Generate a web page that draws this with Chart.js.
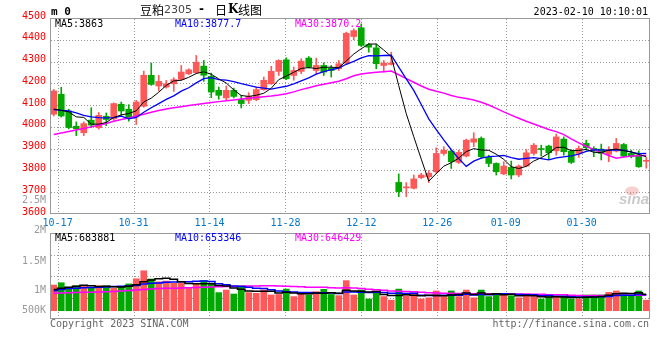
<!DOCTYPE html>
<html>
<head>
<meta charset="utf-8">
<script src="https://cdn.jsdelivr.net/npm/chart.js@4.4.1/dist/chart.umd.min.js"></script>
<style>
  html, body { margin: 0; padding: 0; background: #fff; }
  #wrap { position: relative; width: 660px; height: 360px; }
  #wrap canvas { position: absolute; left: 0; top: 0; }
</style>
</head>
<body>
<div id="wrap">
  <canvas id="price" width="660" height="360"></canvas>
  <canvas id="vol" width="660" height="360"></canvas>
</div>
<script>
/* ── data ─────────────────────────────────────────────── */
const DATES = [
  '10-14','10-17','10-18','10-19','10-20','10-21','10-24','10-25','10-26','10-27','10-28','10-31',
  '11-01','11-02','11-03','11-04','11-07','11-08','11-09','11-10','11-11','11-14','11-15','11-16',
  '11-17','11-18','11-21','11-22','11-23','11-24','11-25','11-28','11-29','11-30',
  '12-01','12-02','12-05','12-06','12-07','12-08','12-09','12-12','12-13','12-14','12-15','12-16',
  '12-19','12-20','12-21','12-22','12-23','12-26','12-27','12-28','12-29','12-30',
  '01-03','01-04','01-05','01-06','01-09','01-10','01-11','01-12','01-13',
  '01-16','01-17','01-18','01-19','01-20','01-30','01-31',
  '02-01','02-02','02-03','02-06','02-07','02-08','02-09','02-10'
];
const DATE_TICKS = [1, 11, 21, 31, 41, 51, 60, 70];

const OPEN  = [4058,4150,4073,4003,3973,4031,3996,4049,4037,4104,4081,4046,4095,4237,4188,4183,4198,4218,4244,4249,
               4279,4232,4168,4133,4168,4125,4122,4125,4171,4198,4255,4308,4236,4255,4316,4259,4282,4270,4267,4293,
               4415,4455,4378,4363,4282,4287,3745,3720,3718,3767,3771,3794,3878,3889,3837,3866,3930,3947,3860,3832,
               3784,3814,3779,3820,3878,3898,3912,3890,3944,3889,3878,3924,3901,3898,3874,3889,3919,3878,3871,3842];
const HIGH  = [4172,4182,4081,4023,4023,4088,4066,4064,4110,4114,4102,4122,4256,4293,4237,4213,4226,4282,4267,4328,
               4305,4247,4183,4188,4178,4145,4157,4183,4229,4278,4308,4317,4275,4313,4323,4316,4294,4282,4305,4435,
               4450,4473,4384,4381,4305,4343,3784,3744,3779,3787,3799,3904,3909,3893,3893,3944,3973,3954,3870,3835,
               3840,3843,3825,3896,3924,3916,3916,3967,3954,3896,3912,3939,3909,3921,3909,3947,3924,3893,3890,3860];
const LOW   = [4050,4045,3991,3960,3960,3997,3990,4006,4030,4053,4026,4011,4090,4191,4165,4178,4163,4214,4240,4244,
               4209,4134,4127,4122,4133,4087,4107,4120,4168,4195,4236,4217,4214,4244,4270,4244,4236,4229,4259,4288,
               4400,4369,4343,4267,4252,4284,3680,3680,3715,3762,3744,3787,3870,3809,3832,3862,3909,3855,3817,3779,
               3780,3761,3771,3817,3870,3866,3851,3870,3870,3832,3860,3893,3863,3848,3840,3885,3862,3858,3814,3810];
const CLOSE = [4165,4050,3997,3991,4015,4008,4053,4034,4107,4073,4041,4114,4237,4195,4209,4198,4217,4252,4262,4297,
               4237,4160,4145,4168,4140,4107,4140,4171,4214,4255,4305,4221,4259,4302,4275,4282,4252,4259,4290,4430,
               4442,4374,4366,4290,4293,4293,3703,3724,3761,3779,3787,3878,3893,3840,3883,3939,3945,3863,3832,3794,
               3820,3779,3820,3881,3916,3896,3881,3954,3886,3837,3901,3904,3889,3878,3896,3924,3866,3863,3817,3845];

const MA5  = [4082,4076,4069,4046,4043.6,4012.2,4012.8,4020.2,4043.4,4055,4061.6,4073.8,4114.4,4132,4159.2,4190.6,
              4211.2,4214.2,4227.6,4245.2,4253,4241.6,4220.2,4201.4,4170,4144,4140,4145.2,4154.4,4177.4,4217,4233.2,
              4250.8,4268.4,4272.4,4267.8,4274,4274,4271.6,4302.6,4334.6,4359,4380.4,4380.4,4353,4323.2,4189,4060.6,
              3954.8,3852,3750.8,3785.8,3819.6,3835.4,3856.2,3886.6,3900,3894,3892.4,3874.6,3850.8,3817.6,3809,3818.8,
              3843.2,3858.4,3878.8,3905.6,3906.6,3890.8,3891.8,3896.4,3883.4,3881.8,3893.6,3898.2,3890.6,3885.4,3873.2,3863];
const MA10 = [4079,4076,4073,4064,4053,4046,4043,4041,4043,4049.3,4036.9,4043.3,4067.3,4087.7,4107.1,4126.1,
              4142.5,4164.3,4179.8,4202.2,4221.8,4226.4,4217.2,4214.5,4207.6,4198.5,4190.8,4182.7,4177.9,4173.7,4180.5,4186.6,
              4198,4211.4,4224.9,4242.4,4253.6,4262.4,4270,4287.5,4301.2,4316.5,4327.2,4326,4327.8,4328.9,4274,4220.5,
              4167.6,4102.5,4037,3987.4,3940.1,3895.1,3854.1,3818.7,3842.9,3856.8,3863.9,3865.4,3868.7,3858.8,3851.5,3855.6,
              3858.9,3854.6,3848.2,3857.3,3862.7,3867,3875.1,3887.6,3894.5,3894.2,3892.2,3895,3893.5,3884.4,3877.5,3878.3];
const MA30 = [3965,3972,3979,3986,3993,4000,4008,4016,4026,4034,4041,4050,4058,4067,4075,4082,
              4088,4093,4098,4103,4107,4112,4116,4120,4124,4128,4132,4135,4138,4141.7,4146.4,4152.1,
              4160.8,4171.2,4179.9,4189,4195.6,4203.1,4209.2,4221.1,4234.5,4243.2,4247.5,4250.6,4253.4,4256.6,4239.5,4221.9,
              4205.2,4187.9,4172.9,4163.5,4155.1,4144.2,4135.6,4130,4123.5,4113.2,4100.5,4085.1,4069,4054.2,4039.6,4025.6,
              4013.6,4000.7,3988.4,3978.2,3964.7,3945,3926.9,3911.3,3895.4,3881.6,3868.4,3856.1,3861.5,3866.2,3868,3870.2];

// volume, in units of 10,000
const VOLUME = [109,119,100,106,106,98,106,106,95,100,114,136,170,135,123,126,117,117,95,117,
                128,117,77,88,71,106,77,74,88,67,69,92,60,74,67,81,91,69,64,128,
                67,88,50,78,60,45,92,63,69,50,55,84,60,84,60,88,55,88,60,69,
                69,64,55,69,60,50,60,60,60,50,50,67,67,67,78,84,74,64,84,45];
const VMA5  = [90,96,100,104,108,105.8,103.2,104.4,102.2,101,104.2,110.2,123,131,135.6,138,
               134.2,123.6,115.6,114.4,114.8,114.8,106.8,105.4,96.2,91.8,83.8,83.2,83.2,82.4,75,78,
               75.2,72.4,72.4,74.8,74.6,76.4,74.4,86.6,83.8,83.2,79.4,82.2,68.6,64.2,65,67.6,
               65.8,63.8,65.8,64.2,63.6,66.6,68.6,75.2,69.4,75,70.2,72,68.2,70,63.4,65.2,
               63.4,59.6,58.8,59.8,58,56,56,57.4,58.8,60.2,65.8,72.6,74,73.4,76.8,70.2];
const VMA10 = [85,90,94,96,98,99,100,101,103,104.5,105,106.7,113.7,116.6,118.3,121.1,
               122.2,123.3,123.3,125,126.4,124.5,115.2,110.5,105.3,103.3,99.3,95,94.3,89.3,83.4,80.9,
               79.2,77.8,77.4,74.9,76.3,75.8,73.4,79.5,79.3,78.9,77.9,78.3,77.6,74,74.1,73.5,
               74,66.2,65,64.6,65.6,66.2,66.2,70.5,66.8,69.3,68.4,70.3,71.7,69.7,69.2,67.7,
               67.7,63.9,64.4,61.6,61.6,59.7,57.8,58.1,59.3,59.1,60.9,64.3,65.7,66.1,68.5,68];
const VMA30 = [74,75,76,77,78,79,80,81,82,84,86,88,90,92,94,95,
               96,97,98,99,100,101,102,103,103,104,105,105,106,106.3,104.9,104,
               102.7,101.6,100.3,99.8,99.3,98,97,97.9,96.4,94.8,90.8,88.9,86.8,84.1,83.2,81.4,
               80.6,78.3,75.9,74.8,74.2,74.1,73.7,73.1,72.4,72.9,71.9,72,72,71.1,70.9,70.7,
               70.5,69.5,68.4,68.1,68,65.4,64.8,64.1,64.7,64.3,64.9,66.2,65.6,65.7,66.2,66];

const VOL_LABELS = [['2.5M', 200.7], ['2M', 230.7], ['1.5M', 261], ['1M', 290.7], ['500K', 310]];

/* ── style ────────────────────────────────────────────── */
const UP = '#ff5858', DOWN = '#00a800';
const GRID = '#999', FRAME = '#999';
const MONO = '"DejaVu Sans Mono", monospace';

Chart.defaults.font.family = MONO;
Chart.defaults.font.size = 10;

const candleColors = CLOSE.map((c, i) => c >= OPEN[i] ? UP : DOWN);

// dotted grid placed with the chart's own scales, plus the solid frame
const dotGrid = {
  id: 'dotGrid',
  beforeDatasetsDraw(chart){
    const a = chart.chartArea, ctx = chart.ctx;
    const xd = chart.scales.xd, y = chart.scales.y;
    const top = Math.round(a.top), bot = Math.round(a.bottom);
    const lft = Math.round(a.left), rgt = Math.round(a.right);
    ctx.save();
    ctx.fillStyle = GRID;
    xd.ticks.forEach(t => {
      const px = Math.round(xd.getPixelForValue(t.value));
      for (let py = top + 1; py < bot - 1; py += 3) ctx.fillRect(px, py, 1, 1);
    });
    y.ticks.forEach(t => {
      const py = Math.round(y.getPixelForValue(t.value));
      if (py <= top + 1 || py >= bot - 1) return;
      for (let px = lft + 1; px < rgt - 1; px += 3) ctx.fillRect(px, py, 1, 1);
    });
    ctx.restore();
  },
  afterDraw(chart){
    const a = chart.chartArea, ctx = chart.ctx;
    ctx.save();
    ctx.strokeStyle = FRAME;
    ctx.lineWidth = 1;
    ctx.strokeRect(a.left + 0.5, a.top + 0.5, a.right - a.left - 1, a.bottom - a.top - 1);
    ctx.restore();
  }
};

function txt(ctx, s, x, y, color, font, align){
  ctx.fillStyle = color;
  ctx.font = font;
  ctx.textAlign = align || 'left';
  ctx.textBaseline = 'middle';
  ctx.fillText(s, x, y);
}

const priceText = {
  id: 'priceText',
  afterDraw(chart){
    const ctx = chart.ctx;
    ctx.save();
    txt(ctx, 'm 0', 51, 12, '#000', 'bold 11px ' + MONO);
    txt(ctx, '豆粕', 140, 10, '#000', '12px "Noto Sans CJK SC"');
    txt(ctx, '2305', 164, 10, '#444', '11px "DejaVu Sans"');
    txt(ctx, '-', 199, 10, '#000', 'bold 12px "DejaVu Sans"');
    txt(ctx, '日', 215, 10, '#000', '12px "Noto Sans CJK SC"');
    txt(ctx, 'K', 228, 10, '#000', 'bold 12px "DejaVu Serif"');
    txt(ctx, '线图', 238, 10, '#000', '12px "Noto Sans CJK SC"');
    txt(ctx, '2023-02-10 10:10:01', 648, 12, '#000', '10px ' + MONO, 'right');
    txt(ctx, 'MA5:3863', 55, 24, '#000', '10px ' + MONO);
    txt(ctx, 'MA10:3877.7', 175, 24, '#0000ff', '10px ' + MONO);
    txt(ctx, 'MA30:3870.2', 295, 24, '#ff00ff', '10px ' + MONO);
    // sina watermark
    ctx.fillStyle = 'rgba(235,120,120,0.35)';
    ctx.beginPath(); ctx.ellipse(632, 191, 7, 4.5, 0, 0, Math.PI * 2); ctx.fill();
    txt(ctx, 'sina', 619, 200, 'rgba(150,150,150,0.5)', 'italic bold 15px "Liberation Sans"');
    ctx.restore();
  }
};

const volText = {
  id: 'volText',
  afterDraw(chart){
    const ctx = chart.ctx;
    ctx.save();
    VOL_LABELS.forEach(([s, y]) => txt(ctx, s, 46, y, '#999', '10px ' + MONO, 'right'));
    txt(ctx, 'MA5:683881', 55, 238.7, '#000', '10px ' + MONO);
    txt(ctx, 'MA10:653346', 175, 238.7, '#0000ff', '10px ' + MONO);
    txt(ctx, 'MA30:646429', 295, 238.7, '#ff00ff', '10px ' + MONO);
    txt(ctx, 'Copyright 2023 SINA.COM', 50, 324, '#666', '10px ' + MONO);
    txt(ctx, 'http://finance.sina.com.cn', 649, 324, '#666', '10px ' + MONO, 'right');
    ctx.restore();
  }
};

/* ── shared axes ──────────────────────────────────────── */
function dateAxis(height, showLabels){
  return {
    type: 'linear', position: 'bottom', min: 0, max: 79,
    offset: false,
    afterBuildTicks: s => { s.ticks = DATE_TICKS.map(v => ({ value: v })); },
    afterFit: s => { s.height = height; },
    grid: { display: false, drawTicks: false, offset: false },
    border: { display: false },
    ticks: {
      display: showLabels, color: '#0077cc', padding: 3,
      autoSkip: false, maxRotation: 0,
      callback: v => DATES[v]
    }
  };
}
const lineDs = (data, color, w, extra) => Object.assign({
  type: 'line', data, borderColor: color, borderWidth: w,
  pointRadius: 0, tension: 0, fill: false, order: 0,
  xAxisID: 'x', yAxisID: 'y'
}, extra || {});

const baseOpts = {
  responsive: false, animation: false, devicePixelRatio: 1, events: [],
  plugins: { legend: { display: false }, tooltip: { enabled: false } }
};

/* ── price panel ──────────────────────────────────────── */
new Chart(document.getElementById('price'), {
  type: 'bar',
  data: {
    labels: DATES,
    datasets: [
      lineDs(MA5, '#000', 1),
      lineDs(MA10, '#0000ff', 1.3),
      lineDs(MA30, '#ff00ff', 1.5),
      {
        data: OPEN.map((o, i) => [o, CLOSE[i]]),
        backgroundColor: candleColors, barThickness: 6, minBarLength: 1,
        grouped: false, order: 1, xAxisID: 'x', yAxisID: 'y'
      },
      {
        data: LOW.map((l, i) => [l, HIGH[i]]),
        backgroundColor: candleColors, barThickness: 1,
        grouped: false, order: 2, xAxisID: 'x', yAxisID: 'y'
      }
    ]
  },
  options: Object.assign({}, baseOpts, {
    layout: { padding: { left: 0, top: 18, right: 10, bottom: 0 } },
    scales: {
      x: { type: 'category', display: false, offset: true },
      xd: dateAxis(146, true),
      y: {
        type: 'linear', position: 'left', min: 3600, max: 4500,
        afterFit: s => { s.width = 50; },
        ticks: { stepSize: 100, color: '#f00', padding: 4, labelOffset: -2, callback: v => String(v) },
        grid: { display: false, drawTicks: false },
        border: { display: false }
      }
    }
  }),
  plugins: [dotGrid, priceText]
});

/* ── volume panel ─────────────────────────────────────── */
new Chart(document.getElementById('vol'), {
  type: 'bar',
  data: {
    labels: DATES,
    datasets: [
      lineDs(VMA5, '#000', 1.5, { stepped: 'middle' }),
      lineDs(VMA10, '#0000ff', 1.5, { stepped: 'middle' }),
      lineDs(VMA30, '#ff00ff', 1.5, { stepped: 'middle' }),
      {
        data: VOLUME, backgroundColor: candleColors, barThickness: 6,
        order: 1, xAxisID: 'x', yAxisID: 'y'
      }
    ]
  },
  options: Object.assign({}, baseOpts, {
    layout: { padding: { left: 0, top: 233, right: 10, bottom: 0 } },
    scales: {
      x: { type: 'category', display: false, offset: true },
      xd: dateAxis(41, false),
      y: {
        type: 'linear', position: 'left', min: -35.3, max: 330.6,
        afterFit: s => { s.width = 50; },
        afterBuildTicks: s => {
          s.ticks = [0, 1, 2, 3, 4].map(k => ({ value: s.min + k * (s.max - s.min) / 4 }));
        },
        ticks: { display: false },
        grid: { display: false, drawTicks: false },
        border: { display: false }
      }
    }
  }),
  plugins: [dotGrid, volText]
});
</script>
</body>
</html>
